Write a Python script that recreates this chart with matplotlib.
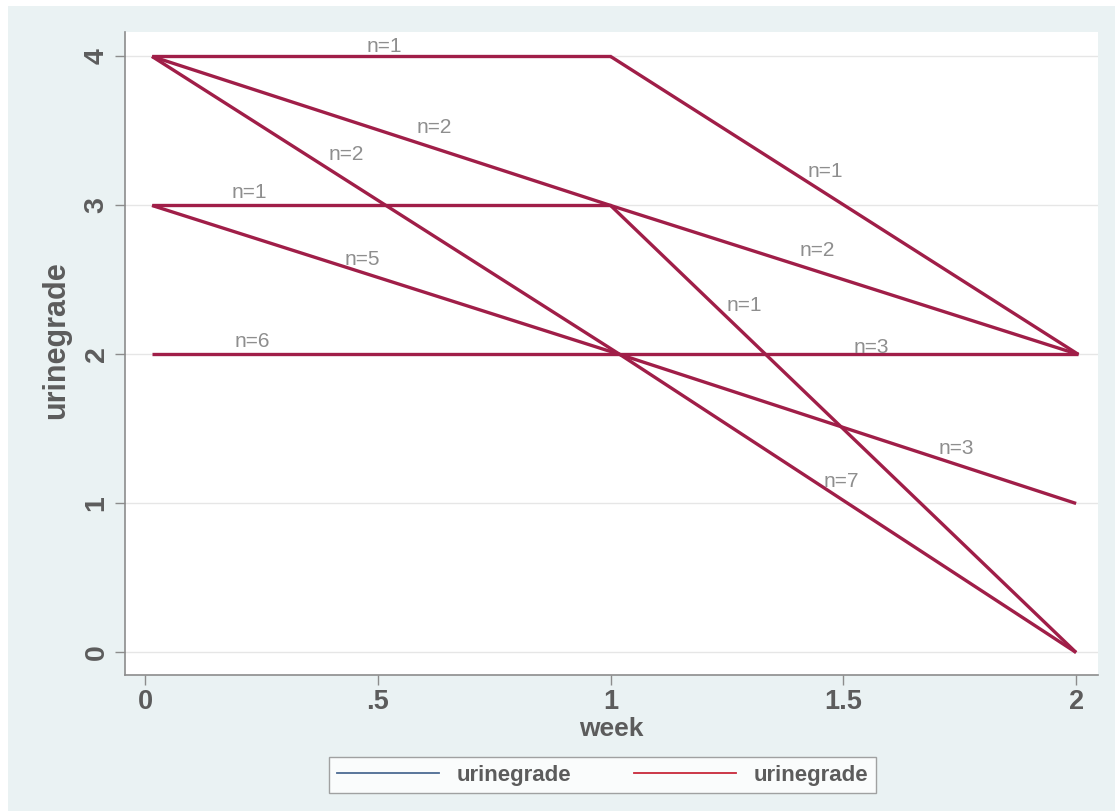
import matplotlib
matplotlib.use("Agg")
import matplotlib.pyplot as plt
from matplotlib.lines import Line2D
from matplotlib.patches import Rectangle

# ---- data ----
x_start = [0.015, 0.015, 0.015, 0.015, 0.015, 0.015, 1.0, 1.0, 1.0, 1.02, 1.02, 1.02]
y_start = [4, 4, 4, 3, 3, 2, 4, 3, 3, 2, 2, 2]
x_end   = [1.0, 1.0, 1.02, 1.0, 1.02, 1.02, 2.005, 2.005, 2.0, 2.005, 2.0, 2.0]
y_end   = [4, 3, 2, 3, 2, 2, 2, 2, 0, 2, 1, 0]
counts  = [1, 2, 2, 1, 5, 6, 1, 2, 1, 3, 3, 7]
label_x = [0.515, 0.622, 0.433, 0.225, 0.466, 0.23, 1.461, 1.444, 1.288, 1.56, 1.742, 1.496]
label_y = [4.07, 3.52, 3.34, 3.09, 2.64, 2.09, 3.23, 2.70, 2.33, 2.05, 1.37, 1.15]
x_ticks = [0, 0.5, 1, 1.5, 2]
x_ticklabels = ["0", ".5", "1", "1.5", "2"]
y_ticks = [0, 1, 2, 3, 4]
y_ticklabels = ["0", "1", "2", "3", "4"]
legend_labels = ["urinegrade", "urinegrade"]

plt.rcParams['font.family'] = ['Liberation Sans', 'DejaVu Sans']

BG = "#EAF2F3"
LINE = "#A01E48"
TXT = "#5C5C5C"
LBL = "#8E8E8E"

fig = plt.figure(figsize=(11.15, 8.11), dpi=100)
fig.patch.set_facecolor("white")
fig.patches.append(Rectangle((8 / 1115, 0), 1, 1 - 6 / 811, transform=fig.transFigure,
                             facecolor=BG, edgecolor="none", zorder=-10))

ax = fig.add_axes([125 / 1115, 1 - 675 / 811, (1098 - 125) / 1115, (675 - 32) / 811])
ax.set_facecolor("white")

for xs, ys, xe, ye in zip(x_start, y_start, x_end, y_end):
    ax.plot([xs, xe], [ys, ye], color=LINE, lw=2.4, solid_capstyle="butt", zorder=3)

for lx, ly, n in zip(label_x, label_y, counts):
    ax.text(lx, ly, f"n={n}", color=LBL, fontsize=15, ha="center", va="center", zorder=4)

ax.set_xlim(-0.043, 2.047)
ax.set_ylim(-0.151, 4.164)

ax.set_xticks(x_ticks)
ax.set_xticklabels(x_ticklabels, fontsize=19.5, fontweight="bold", color=TXT)
ax.set_yticks(y_ticks)
ax.set_yticklabels(y_ticklabels, fontsize=20.5, fontweight="bold", color=TXT,
                   rotation=90, va="center")
ax.tick_params(axis="both", colors="#8C8C8C", length=7, width=1.0, labelcolor=TXT)
ax.tick_params(axis="x", pad=3)
ax.tick_params(axis="y", pad=4)

ax.grid(axis="y", color="#E6E6E6", lw=1.0, zorder=0)
ax.set_axisbelow(True)

for s in ["top", "right"]:
    ax.spines[s].set_visible(False)
for s in ["left", "bottom"]:
    ax.spines[s].set_color("#8C8C8C")
    ax.spines[s].set_linewidth(1.2)

ax.set_xlabel("week", fontsize=19, fontweight="bold", color=TXT)
ax.xaxis.label.set_va("center")
ax.xaxis.set_label_coords(0.4995, (675 - 729) / 643)
ax.set_ylabel("urinegrade", fontsize=22, fontweight="bold", color=TXT)
ax.yaxis.label.set_va("center")
ax.yaxis.set_label_coords((56 - 125) / 973, (675 - 340) / 643)

handles = [Line2D([0], [0], color="#4C6A92", lw=1.3),
           Line2D([0], [0], color="#C8283A", lw=1.3)]
leg = fig.legend(handles, legend_labels, ncol=2, loc="center",
                 bbox_to_anchor=((329 + 876) / 2 / 1115, 1 - 775 / 811),
                 frameon=True, fancybox=False, edgecolor="#8C8C8C",
                 handlelength=4.6, handletextpad=0.8, columnspacing=2.8,
                 borderpad=0.35, prop={"weight": "bold", "size": 16})
leg.get_frame().set_linewidth(1.0)
for t in leg.get_texts():
    t.set_color(TXT)

fig.savefig("out.png", dpi=100, facecolor=fig.get_facecolor())
